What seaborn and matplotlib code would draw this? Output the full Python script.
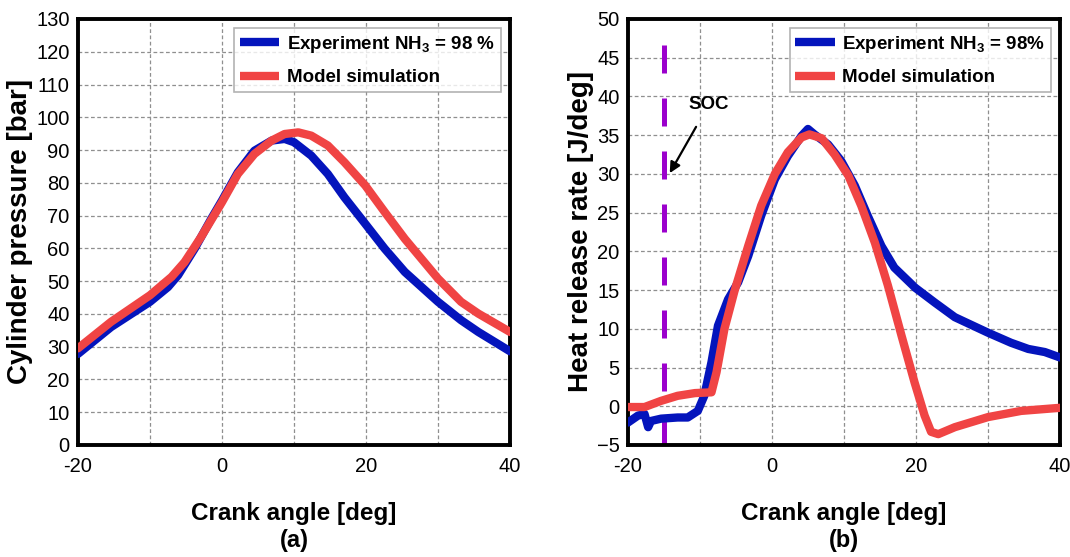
import numpy as np
import pandas as pd
import matplotlib
matplotlib.use("Agg")
import matplotlib.pyplot as plt
import seaborn as sns

# ---------------- data ----------------
# (a) cylinder pressure [bar] vs crank angle [deg]
ca_exp_p = [-20, -15.4, -10, -7.5, -6.1, -3.8, -1.5, 0, 2.2, 4.5, 6.9, 8.7, 10, 12.4,
            14.7, 17, 19.9, 22.6, 25.4, 30, 33.2, 35.6, 40]
p_exp = [27.8, 36.0, 43.7, 48.2, 51.8, 59.9, 69.0, 74.6, 83.2, 89.8, 92.9, 93.4, 92.4,
         88.3, 82.7, 75.6, 67.5, 59.9, 52.8, 43.7, 38.1, 34.5, 28.6]
ca_mod_p = [-20, -15.4, -10, -7, -5.2, -2.9, 0, 2.2, 4.5, 6.9, 8.7, 10.6, 12.4, 14.7,
            17, 19.9, 22.6, 25.4, 30, 33.2, 35.6, 40]
p_mod = [29.5, 37.6, 45.7, 51.3, 55.8, 63.5, 74.1, 82.7, 88.8, 92.9, 94.9, 95.4, 94.4,
         91.4, 86.3, 79.2, 71.1, 62.9, 50.8, 43.7, 40.1, 34.5]

# (b) heat release rate [J/deg] vs crank angle [deg]
ca_exp_h = [-20, -18.6, -17.7, -17.2, -16.8, -15.4, -13.1, -11.7, -10.3, -9.4, -8.4,
            -7.5, -6.1, -4.7, -3.3, -1.5, 0.4, 2.2, 4.1, 5.0, 5.9, 7.8, 9.6, 11.5, 13.3,
            15.2, 17, 19.9, 22.6, 25.4, 30, 33.2, 35.6, 37.9, 40]
hrr_exp = [-2.1, -1.2, -1.0, -2.7, -1.9, -1.6, -1.45, -1.45, -0.6, 1.35, 5.7, 10.4,
           13.8, 16.0, 19.4, 24.6, 29.3, 32.3, 34.9, 35.8, 35.1, 33.8, 31.7, 28.5, 24.6,
           20.7, 17.9, 15.3, 13.4, 11.5, 9.5, 8.2, 7.4, 7.0, 6.3]
ca_mod_h = [-20, -17.7, -15.4, -13.1, -10.7, -8.4, -7.7, -6.6, -5.2, -3.3, -1.5, 0.4,
            2.2, 4.1, 5.2, 6.9, 8.7, 10.6, 12.4, 14.3, 16.1, 18, 19.8, 21.2, 22.1, 23.1,
            25.4, 30, 34.6, 40]
hrr_mod = [-0.1, -0.1, 0.7, 1.35, 1.7, 1.8, 4.4, 10.0, 14.9, 20.7, 25.9, 30.0, 32.8,
           34.7, 35.1, 34.6, 32.5, 29.8, 25.9, 21.1, 15.6, 9.1, 3.1, -1.2, -3.3, -3.6,
           -2.7, -1.4, -0.6, -0.2]

soc_angle = -15
soc_top = 46.6
x_ticks = [-20, -10, 0, 10, 20, 30, 40]
x_labels = ["-20", "", "0", "", "20", "", "40"]
y_ticks_a = list(range(0, 131, 10))
y_ticks_b = list(range(-5, 51, 5))

blue = "#0414BC"
red = "#F04444"
purple = "#9B00CC"

REG = ["Liberation Sans", "DejaVu Sans"]

# ---------------- style ----------------
sns.set_style("white")
plt.rcParams["font.family"] = REG
plt.rcParams["text.color"] = "black"
plt.rcParams["axes.labelcolor"] = "black"
plt.rcParams["xtick.color"] = "black"
plt.rcParams["ytick.color"] = "black"
plt.rcParams["mathtext.fontset"] = "custom"
plt.rcParams["mathtext.rm"] = "Liberation Sans:bold"
plt.rcParams["mathtext.default"] = "rm"

fig = plt.figure(figsize=(10.7, 5.57), dpi=100)
ax1 = fig.add_axes([0.0729, 0.2011, 0.4037, 0.7648])
ax2 = fig.add_axes([0.5869, 0.2011, 0.4037, 0.7648])

df_a_exp = pd.DataFrame({"ca": ca_exp_p, "v": p_exp})
df_a_mod = pd.DataFrame({"ca": ca_mod_p, "v": p_mod})
df_b_exp = pd.DataFrame({"ca": ca_exp_h, "v": hrr_exp})
df_b_mod = pd.DataFrame({"ca": ca_mod_h, "v": hrr_mod})

LW = 6
sns.lineplot(data=df_a_exp, x="ca", y="v", ax=ax1, color=blue, lw=LW,
             label="Experiment NH$_3$ = 98 %", sort=False, zorder=3)
sns.lineplot(data=df_a_mod, x="ca", y="v", ax=ax1, color=red, lw=LW,
             label="Model simulation", sort=False, zorder=4)

ax2.plot([soc_angle, soc_angle], [soc_top, -5], color=purple, lw=3.6,
         dashes=(5.6, 5.0), dash_capstyle="butt", zorder=2)
sns.lineplot(data=df_b_exp, x="ca", y="v", ax=ax2, color=blue, lw=LW,
             label="Experiment NH$_3$ = 98%", sort=False, zorder=3)
sns.lineplot(data=df_b_mod, x="ca", y="v", ax=ax2, color=red, lw=LW,
             label="Model simulation", sort=False, zorder=4)

ax2.annotate("SOC", xy=(-14.2, 30.1), xytext=(-8.75, 39.0), ha="center", va="center",
             fontsize=13.5, fontweight="bold",
             arrowprops=dict(arrowstyle="-|>", color="black", lw=1.6,
                             mutation_scale=16, shrinkA=9, shrinkB=0))

def style(ax, yticks, ylim, ylabel, panel, ylab_x):
    ax.set_xlim(-20, 40)
    ax.set_ylim(*ylim)
    ax.set_xticks(x_ticks)
    ax.set_xticklabels(x_labels)
    ax.set_yticks(yticks)
    ax.grid(True, color="#8f8f8f", lw=0.9, ls=(0, (3, 2)))
    ax.set_axisbelow(True)
    for s in ax.spines.values():
        s.set_visible(True)
        s.set_color("black")
        s.set_linewidth(2.8)
    ax.tick_params(axis="both", direction="in", length=4, width=2.5,
                   labelsize=14.5, pad=6, colors="black")
    ax.tick_params(axis="x", pad=9)
    ax.set_xlabel("Crank angle [deg]", fontsize=17.5, fontweight="bold")
    ax.xaxis.set_label_coords(0.5, -0.135)
    ax.set_ylabel(ylabel, fontsize=20, fontweight="bold")
    ax.yaxis.set_label_coords(ylab_x, 0.5)
    leg = ax.legend(loc="upper right", prop=dict(weight="bold", size=13.5),
                    frameon=True, fancybox=False, borderpad=0.3, handlelength=2.1,
                    handletextpad=0.4, labelspacing=0.75, borderaxespad=0.5)
    leg.get_frame().set_edgecolor("#a0a0a0")
    leg.get_frame().set_linewidth(1.2)
    for h in leg.get_lines():
        h.set_linewidth(6)
        h.set_solid_capstyle("butt")
    ax.text(0.5, -0.225, panel, transform=ax.transAxes, ha="center", va="center",
            fontsize=17, fontweight="bold")

style(ax1, y_ticks_a, (0, 130), "Cylinder pressure [bar]", "(a)", -0.104)
style(ax2, y_ticks_b, (-5, 50), "Heat release rate [J/deg]", "(b)", -0.078)

fig.savefig("out.png", dpi=100)
